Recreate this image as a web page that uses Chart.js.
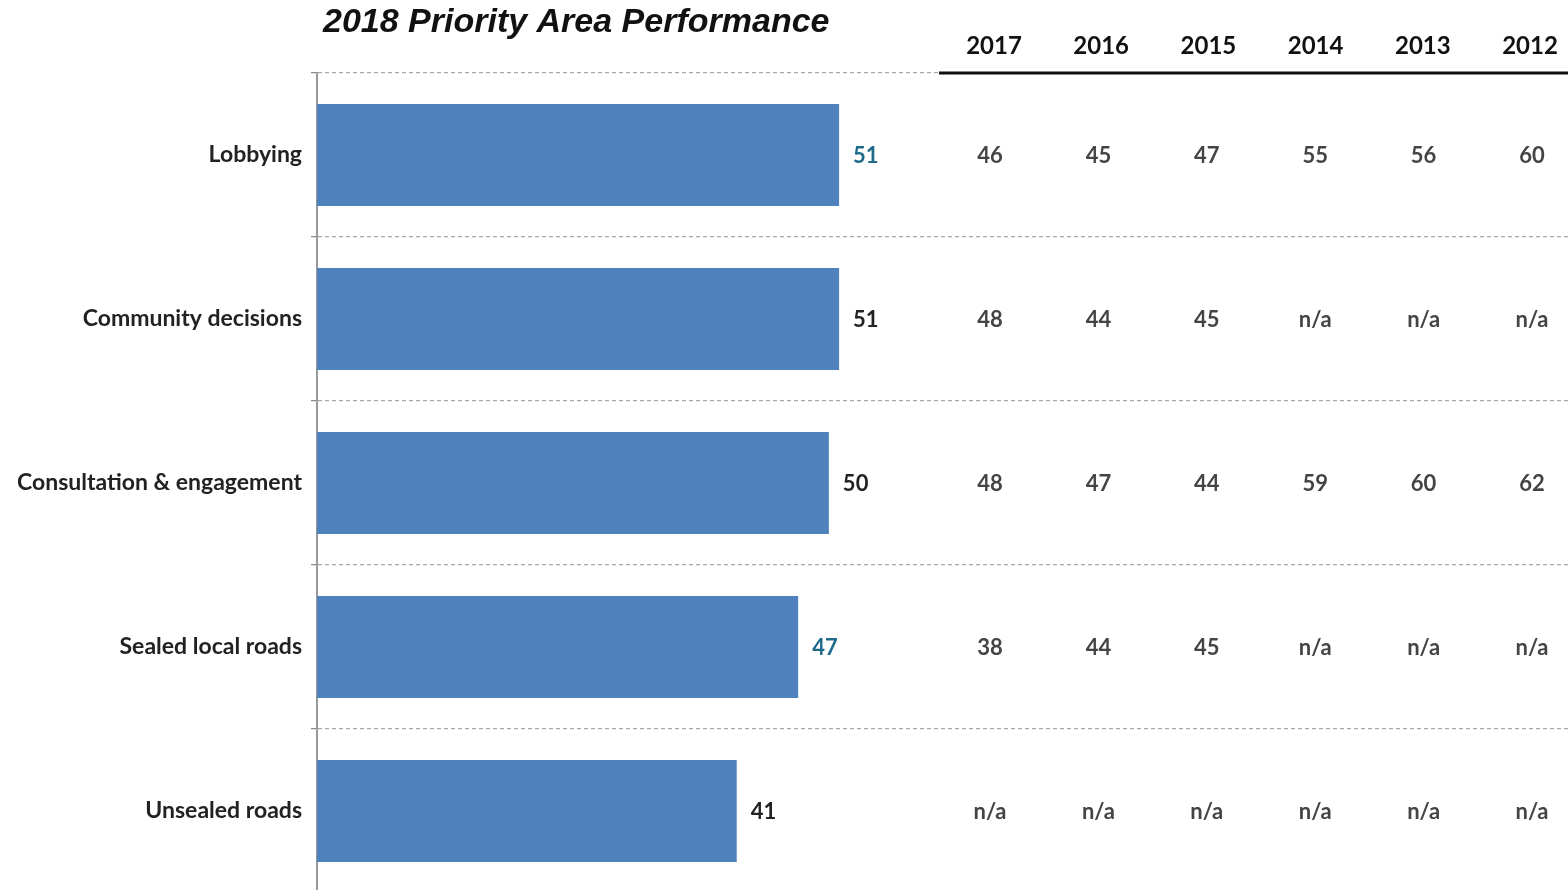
<!DOCTYPE html>
<html>
<head>
<meta charset="utf-8">
<script src="https://cdn.jsdelivr.net/npm/chart.js@4.4.1/dist/chart.umd.min.js"></script>
<style>
  html, body { margin: 0; padding: 0; background: #fff; overflow: hidden; }
  canvas { display: block; }
</style>
</head>
<body>
<canvas id="chart" width="1568" height="893"></canvas>
<script>
const categories = ['Lobbying', 'Community decisions', 'Consultation & engagement', 'Sealed local roads', 'Unsealed roads'];
const scores2018 = [51, 51, 50, 47, 41];
// true where the 2018 score is shown in teal
const highlighted = [true, false, false, true, false];

const years = ['2017', '2016', '2015', '2014', '2013', '2012'];
const scores2017 = [46, 48, 48, 38, null];
const scores2016 = [45, 44, 47, 44, null];
const scores2015 = [47, 45, 44, 45, null];
const scores2014 = [55, null, 59, null, null];
const scores2013 = [56, null, 60, null, null];
const scores2012 = [60, null, 62, null, null];
const history = [scores2017, scores2016, scores2015, scores2014, scores2013, scores2012];

const labelFont = 'Lato, "Open Sans", sans-serif';

const tablePlugin = {
  id: 'table',
  afterDraw(chart) {
    const ctx = chart.ctx;
    const area = chart.chartArea;
    const yScale = chart.scales.y;
    const xScale = chart.scales.x;
    ctx.save();

    // title
    ctx.font = 'italic bold 34px "Liberation Sans", Arial, sans-serif';
    ctx.fillStyle = '#111';
    ctx.textAlign = 'left';
    ctx.textBaseline = 'middle';
    ctx.fillText('2018 Priority Area Performance', 323, 23);

    // 2018 value labels
    ctx.font = 'bold 22px ' + labelFont;
    scores2018.forEach((v, i) => {
      ctx.fillStyle = highlighted[i] ? '#1d6a8a' : '#222';
      ctx.fillText(String(v), xScale.getPixelForValue(v) + 14, yScale.getPixelForValue(i) + 1);
    });

    // header underline
    ctx.strokeStyle = '#111';
    ctx.lineWidth = 3;
    ctx.beginPath();
    ctx.moveTo(939, area.top);
    ctx.lineTo(1568, area.top);
    ctx.stroke();

    // table
    ctx.textAlign = 'center';
    years.forEach((yr, c) => {
      ctx.font = 'bold 24px ' + labelFont;
      ctx.fillStyle = '#111';
      ctx.fillText(yr, 994 + c * 107.2, 46);
      ctx.font = 'bold 22px ' + labelFont;
      ctx.fillStyle = '#444';
      history[c].forEach((v, i) => {
        ctx.fillText(v === null ? 'n/a' : String(v), 990 + c * 108.4, yScale.getPixelForValue(i) + 1);
      });
    });
    ctx.restore();
  }
};

new Chart(document.getElementById('chart'), {
  type: 'bar',
  data: {
    labels: categories,
    datasets: [{
      data: scores2018,
      backgroundColor: '#4f81bd',
      categoryPercentage: 1,
      barPercentage: 0.622
    }]
  },
  options: {
    indexAxis: 'y',
    responsive: false,
    animation: false,
    layout: { padding: { top: 73, right: 0, bottom: 0, left: 0 } },
    plugins: { legend: { display: false }, tooltip: { enabled: false }, title: { display: false } },
    scales: {
      x: {
        display: false,
        min: 0,
        max: 122.2
      },
      y: {
        afterFit(scale) {
          scale.width = 317;
          // no extra room for the half-height of the last label
          scale.paddingTop = 0;
          scale.paddingBottom = 0;
        },
        grid: {
          offset: true,
          color: '#aaa',
          lineWidth: 1.2,
          tickLength: 6,
          tickBorderDash: [],
          tickColor: '#888'
        },
        border: { display: true, color: '#999', width: 2, dash: [4, 3] },
        ticks: {
          padding: 9,
          color: '#222',
          font: { family: labelFont, size: 23, weight: 'bold' }
        }
      }
    }
  },
  plugins: [tablePlugin]
});
</script>
</body>
</html>
